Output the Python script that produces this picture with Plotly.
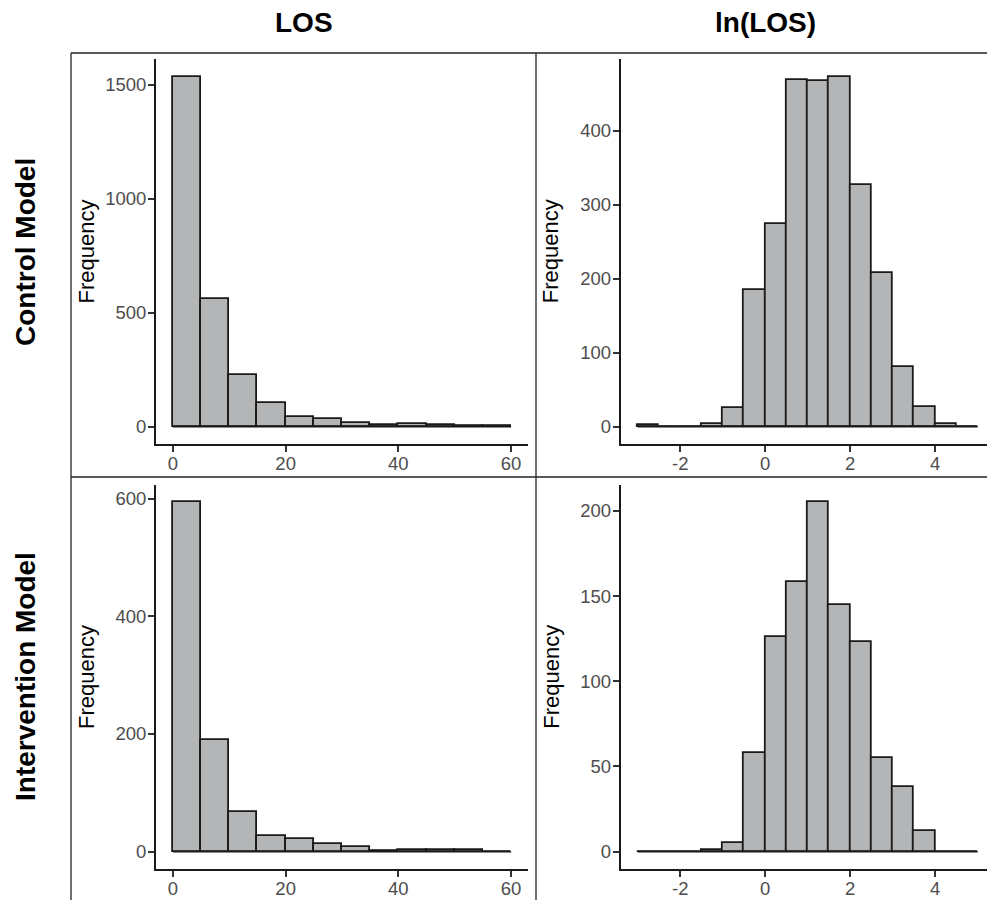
import plotly.graph_objects as go

# ---------------- data ----------------
los_edges = [0, 5, 10, 15, 20, 25, 30, 35, 40, 45, 50, 55, 60]
ln_edges = [-3.0, -2.5, -2.0, -1.5, -1.0, -0.5, 0.0, 0.5, 1.0, 1.5, 2.0, 2.5, 3.0, 3.5, 4.0, 4.5, 5.0]

control_los = [1537, 559, 227, 103, 40, 34, 14, 6, 9, 5, 3, 2]
control_ln = [2, 0, 0, 3, 25, 184, 273, 468, 467, 473, 327, 207, 81, 26, 3, 0]
interv_los = [594, 189, 68, 26, 22, 12, 8, 1, 3, 2, 2, 0]
interv_ln = [0, 0, 0, 1, 5, 58, 126, 158, 205, 145, 123, 55, 38, 12, 0, 0]

los_ticks = [0, 20, 40, 60]
ln_ticks = [-2, 0, 2, 4]
control_los_yticks = [0, 500, 1000, 1500]
control_ln_yticks = [0, 100, 200, 300, 400]
interv_los_yticks = [0, 200, 400, 600]
interv_ln_yticks = [0, 50, 100, 150, 200]

col_titles = ["LOS", "ln(LOS)"]
row_titles = ["Control Model", "Intervention Model"]
y_label = "Frequency"

# ---------------- layout helpers ----------------
W, H = 987, 900
FONT = "Liberation Sans, Arial, Helvetica, sans-serif"
FILL = "#b4b5b6"
EDGE = "#1a1a1a"


def px_x(p):
    return p / W


def px_y(p):
    return 1 - p / H


fig = go.Figure()

panels = [
    # (edges, counts, xticks, yticks, axis id, x px domain, y px domain, clipped)
    (los_edges, control_los, los_ticks, control_los_yticks, 1, (156, 528), (59, 444), False),
    (ln_edges, control_ln, ln_ticks, control_ln_yticks, 2, (620.7, 987), (59, 444), True),
    (los_edges, interv_los, los_ticks, interv_los_yticks, 3, (156, 528), (485, 869), False),
    (ln_edges, interv_ln, ln_ticks, interv_ln_yticks, 4, (620.7, 987), (485, 869), True),
]

for edges, counts, xt, yt, k, (x0, x1), (y0, y1), clipped in panels:
    centers = [(a + b) / 2 for a, b in zip(edges[:-1], edges[1:])]
    widths = [b - a for a, b in zip(edges[:-1], edges[1:])]
    suffix = "" if k == 1 else str(k)
    fig.add_trace(go.Bar(
        x=centers, y=counts, width=widths,
        marker=dict(color=FILL, line=dict(color=EDGE, width=1.8)),
        xaxis="x" + suffix, yaxis="y" + suffix, showlegend=False,
        hoverinfo="x+y",
    ))
    fig.add_trace(go.Scatter(
        x=[edges[0], edges[-1]], y=[0, 0], mode="lines",
        line=dict(color=EDGE, width=1.8),
        xaxis="x" + suffix, yaxis="y" + suffix, showlegend=False, hoverinfo="skip",
    ))
    dr = edges[-1] - edges[0]
    lo = edges[0] - 0.05 * dr
    hi = edges[-1] + 0.05 * dr
    if clipped:
        # the panel is cut by the right edge of the image
        hi = lo + (x1 - x0) / 42.5
    m = max(counts)
    axis_common = dict(
        showline=True, linecolor=EDGE, linewidth=1.8,
        ticks="outside", ticklen=6, tickwidth=1.5, tickcolor="#333333",
        showgrid=False, zeroline=False,
        tickfont=dict(family=FONT, size=18.5, color="#4d4d4d"),
    )
    fig.update_layout(**{
        "xaxis" + suffix: dict(
            domain=[px_x(x0), px_x(x1)], range=[lo, hi],
            tickmode="array", tickvals=xt, ticktext=[str(v) for v in xt],
            anchor="y" + suffix, ticklabelstandoff=-4, **axis_common,
        ),
        "yaxis" + suffix: dict(
            domain=[px_y(y1), px_y(y0)], range=[-0.05 * m, 1.05 * m],
            tickmode="array", tickvals=yt, ticktext=[str(v) for v in yt],
            anchor="x" + suffix, ticklabelstandoff=-2, **axis_common,
        ),
    })
    fig.add_annotation(
        x=px_x(x0 - 70), y=px_y((y0 + y1) / 2),
        xref="paper", yref="paper", text=y_label, textangle=-90, showarrow=False,
        font=dict(family=FONT, size=22, color="black"), xanchor="center", yanchor="middle",
    )

# column titles
for t, cx in zip(col_titles, [303.5, 765]):
    fig.add_annotation(x=px_x(cx), y=px_y(22), xref="paper", yref="paper", text="<b>%s</b>" % t,
                       showarrow=False, font=dict(family=FONT, size=28, color="black"),
                       xanchor="center", yanchor="middle")
# row titles
for t, cy in zip(row_titles, [252, 677]):
    fig.add_annotation(x=px_x(25), y=px_y(cy), xref="paper", yref="paper", text="<b>%s</b>" % t,
                       textangle=-90, showarrow=False, font=dict(family=FONT, size=28, color="black"),
                       xanchor="center", yanchor="middle")

# panel borders
border = dict(color="#222222", width=1.3)
for (xa, ya, xb, yb) in [(71, 53, 987, 53), (71, 477, 987, 477), (71, 53, 71, 900), (536, 53, 536, 900)]:
    fig.add_shape(type="line", xref="paper", yref="paper",
                  x0=px_x(xa), y0=px_y(ya), x1=px_x(xb), y1=px_y(yb), line=border)

fig.update_layout(
    width=W, height=H, margin=dict(l=0, r=0, t=0, b=0),
    paper_bgcolor="white", plot_bgcolor="white",
    bargap=0, showlegend=False,
    font=dict(family=FONT),
)

fig.write_html(
    "out.html",
    config={"displayModeBar": False},
    post_script="document.body.style.margin='0';document.body.style.overflow='hidden';",
)
